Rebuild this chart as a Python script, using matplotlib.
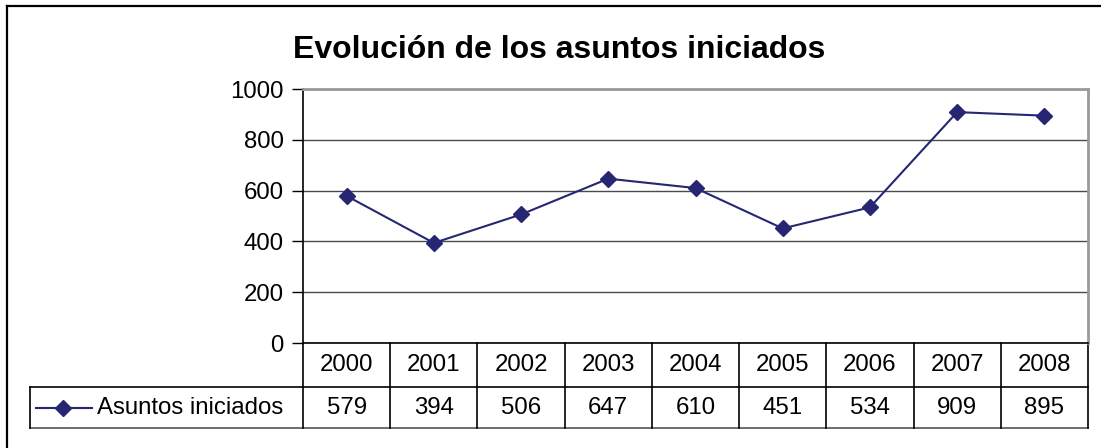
import matplotlib
matplotlib.use("Agg")
import matplotlib.pyplot as plt
from matplotlib.lines import Line2D
import matplotlib.transforms as mtransforms

plt.rcParams['font.family'] = ['Liberation Sans', 'DejaVu Sans']

years = ["2000", "2001", "2002", "2003", "2004", "2005", "2006", "2007", "2008"]
values = [579, 394, 506, 647, 610, 451, 534, 909, 895]
series_name = "Asuntos iniciados"
title = "Evolución de los asuntos iniciados"
yticks = [0, 200, 400, 600, 800, 1000]

W, H = 1101, 448
fig = plt.figure(figsize=(W / 100, H / 100), dpi=100)
fig.patch.set_facecolor('white')

FS = 17.3

# plot area in pixels
L, R, T, B = 303, 1088, 89, 343
ax = fig.add_axes([L / W, 1 - B / H, (R - L) / W, (B - T) / H])

line_color = '#262673'
xs = list(range(len(values)))
ax.plot(xs, values, color=line_color, lw=1.5, marker='D', markersize=7.8,
        markerfacecolor=line_color, markeredgecolor=line_color, zorder=3, clip_on=False)

ax.set_xlim(-0.5, len(values) - 0.5)
ax.set_ylim(0, 1000)
ax.set_yticks(yticks)
ax.set_yticklabels([str(v) for v in yticks], fontsize=FS)
ax.set_xticks([])
ax.yaxis.grid(True, color='#4a4a4a', lw=1.0)
ax.set_axisbelow(True)
ax.tick_params(axis='y', length=8, width=1, direction='out', pad=6, colors='black')
ax.spines['left'].set_color('black')
ax.spines['left'].set_linewidth(1.2)
ax.spines['bottom'].set_color('black')
ax.spines['bottom'].set_linewidth(1.2)
for s in ['top', 'right']:
    ax.spines[s].set_color('#9a9a9a')
    ax.spines[s].set_linewidth(2.0)

# data table below the axes
trans = mtransforms.blended_transform_factory(ax.transData, ax.transAxes)
ph = B - T
r1 = -(387 - B) / ph
r2 = -(428 - B) / ph
xpx = (R - L) / len(values)
leg_left = -0.5 - (L - 30) / xpx

def hline(x0, x1, y, color='black', lw=1.2):
    ax.add_line(Line2D([x0, x1], [y, y], transform=trans, color=color, lw=lw, clip_on=False))

def vline(x, y0, y1, color='black', lw=1.2):
    ax.add_line(Line2D([x, x], [y0, y1], transform=trans, color=color, lw=lw, clip_on=False))

hline(leg_left, len(values) - 0.5, r1)
hline(leg_left, len(values) - 0.5, r2, color='#555555')
for i in range(len(values) + 1):
    vline(i - 0.5, 0, r2)
vline(leg_left, r1, r2)

for i, (yr, v) in enumerate(zip(years, values)):
    ax.text(i, (0 + r1) / 2, yr, transform=trans, ha='center', va='center', fontsize=FS)
    ax.text(i, (r1 + r2) / 2, str(v), transform=trans, ha='center', va='center', fontsize=FS)

# legend key in table
ly = (r1 + r2) / 2
lx0 = -0.5 - (L - 36) / xpx
lx1 = -0.5 - (L - 92) / xpx
lxm = -0.5 - (L - 63) / xpx
ax.add_line(Line2D([lx0, lx1], [ly, ly], transform=trans, color=line_color, lw=1.5, clip_on=False))
ax.add_line(Line2D([lxm], [ly], transform=trans, color=line_color, marker='D', markersize=7.8,
                   markerfacecolor=line_color, markeredgecolor=line_color, clip_on=False))
ax.text(-0.5 - (L - 97) / xpx, ly, series_name, transform=trans, ha='left', va='center', fontsize=FS)

# title
fig.text(559 / W, 1 - 58 / H, title, ha='center', va='baseline', fontsize=23, fontweight='bold')

# outer border (top and left)
fig.add_artist(Line2D([7 / W, 7 / W], [0, 1 - 6 / H], transform=fig.transFigure, color='black', lw=1.6))
fig.add_artist(Line2D([7 / W, 1], [1 - 6 / H, 1 - 6 / H], transform=fig.transFigure, color='black', lw=1.6))

fig.savefig('out.png', dpi=100, facecolor='white')
